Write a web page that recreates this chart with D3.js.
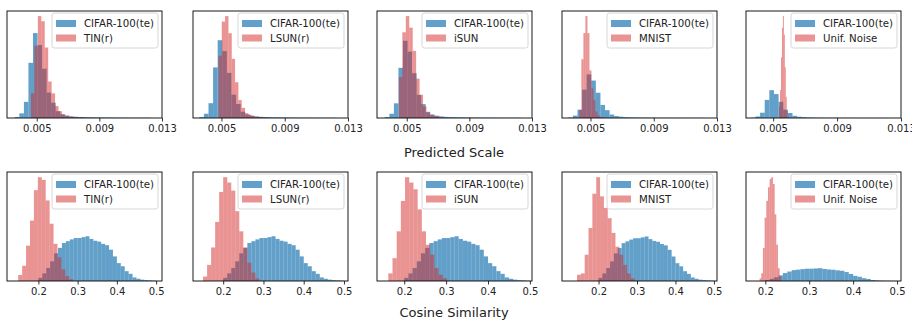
<!DOCTYPE html>
<html>
<head>
<meta charset="utf-8">
<script src="https://cdn.jsdelivr.net/npm/d3@7"></script>
<style>
  body { margin: 0; background: #fff; }
  svg { display: block; font-family: "DejaVu Sans", sans-serif; }
</style>
</head>
<body>
<svg id="chart" width="912" height="320"></svg>
<script>
// dataset names
const idName = 'CIFAR-100(te)';
const oodNames = ['TIN(r)', 'LSUN(r)', 'iSUN', 'MNIST', 'Unif. Noise'];

// tick labels
const scaleTicks = [0.005, 0.009, 0.013];
const cosTicks = [0.2, 0.3, 0.4, 0.5];

// x limits per panel
const scaleXMin = [0.0031, 0.0032, 0.0031, 0.0032, 0.0033];
const scaleXMax = [0.013, 0.013, 0.013, 0.013, 0.013];
const cosXMin = [0.12, 0.125, 0.135, 0.105, 0.156];
const cosXMax = [0.515, 0.51, 0.505, 0.508, 0.509];

// predicted scale, in-distribution histogram (same in every panel)
const scaleIdStart = 0.0036;
const scaleIdWidth = 0.00029;
const scaleId = [1.2, 5.5, 19, 65, 100, 86, 58, 30, 18, 8, 4.5, 3, 2, 1.5, 1.2,
  1, 0.9, 0.8, 0.7, 0.6, 0.5, 0.5, 0.4, 0.4, 0.4, 0.3, 0.3, 0.3, 0.3, 0.3];

// predicted scale, OOD histograms
const scaleOodStart = [0.00463, 0.00481, 0.0045, 0.0043, 0.00537];
const scaleOodWidth = [0.00022, 0.00021, 0.00022, 0.000127, 0.00006];
const scaleOod = [
  [29, 85, 120, 114, 83, 43, 29, 14, 8, 4, 2.3, 1.6, 1.2, 0.8, 0.8, 0.4],
  [80, 124, 131, 109, 76, 46, 23, 13, 6.3, 4.2, 2.5, 1.7, 1.3, 0.8, 0.4],
  [53, 111, 132, 117, 87, 51, 30, 15, 7, 4.3, 2.6, 1.7, 0.9, 0.4],
  [19, 135, 195, 234, 195, 109, 68, 41, 15, 6, 3, 1.5],
  [41, 100, 218, 324, 366, 300, 182, 76, 24, 6]
];

// cosine similarity, in-distribution histogram
const cosIdStart = 0.2;
const cosIdWidth = 0.01;
const cosId = [7, 17, 29, 44, 62, 74, 85, 89, 93, 96, 96, 98, 100, 94, 90, 88, 83,
  80, 70, 55, 40, 33, 22, 16, 8, 5, 3, 2, 1.5, 0.8];

// cosine similarity, OOD histograms
const cosOodStart = [0.1486, 0.15, 0.162, 0.144, 0.187];
const cosOodWidth = [0.01, 0.01, 0.01, 0.01, 0.0038];
const cosOod = [
  [13.5, 34, 79, 135, 203, 232, 226, 180, 128, 83, 53, 26, 11, 4],
  [10, 36, 75, 132, 199, 232, 220, 202, 156, 111, 75, 41, 19, 6],
  [17, 51, 111, 179, 232, 220, 205, 160, 111, 81, 59, 29, 14, 6],
  [14, 17, 59, 119, 196, 233, 190, 164, 141, 108, 77, 59, 36, 17, 6],
  [21, 60, 258, 495, 626, 732, 797, 811, 758, 521, 284, 100, 34]
];

const blue = '#1f77b4';
const red = '#d62728';
const panelLeft = [7, 193, 377, 562, 746];
const panelW = 155;

const svg = d3.select('#chart');

function toBins(start, width, values) {
  return values.map((v, i) => ({ x0: start + i * width, x1: start + (i + 1) * width, v }));
}

function drawPanel(i, top, height, xDomain, ticks, tickFmt, idBins, oodBins) {
  const left = panelLeft[i];
  const x = d3.scaleLinear().domain(xDomain).range([left, left + panelW]);
  const yMax = d3.max(idBins.concat(oodBins), d => d.v) * 1.05;
  const y = d3.scaleLinear().domain([0, yMax]).range([top + height, top]);

  const g = svg.append('g');

  g.append('g').selectAll('rect').data(idBins).enter().append('rect')
    .attr('x', d => x(d.x0))
    .attr('width', d => x(d.x1) - x(d.x0))
    .attr('y', d => y(d.v))
    .attr('height', d => y(0) - y(d.v))
    .attr('fill', blue).attr('fill-opacity', 0.7);

  g.append('g').selectAll('rect').data(oodBins).enter().append('rect')
    .attr('x', d => x(d.x0))
    .attr('width', d => x(d.x1) - x(d.x0))
    .attr('y', d => y(d.v))
    .attr('height', d => y(0) - y(d.v))
    .attr('fill', red).attr('fill-opacity', 0.5);

  // frame
  g.append('rect')
    .attr('x', left).attr('y', top)
    .attr('width', panelW).attr('height', height)
    .attr('fill', 'none').attr('stroke', '#000').attr('stroke-width', 0.9);

  const axis = d3.axisBottom(x).tickValues(ticks).tickFormat(tickFmt)
    .tickSize(3.5).tickPadding(3);
  const ax = g.append('g')
    .attr('transform', `translate(0,${top + height})`)
    .call(axis);
  ax.select('.domain').remove();
  ax.selectAll('line').attr('stroke', '#000').attr('stroke-width', 0.8);
  ax.selectAll('text').attr('font-size', '10px').attr('fill', '#222')
    .attr('font-family', '"DejaVu Sans", sans-serif');

  // legend
  const lw = 106, lh = 35;
  const lx = left + panelW - 4 - lw, ly = top + 2;
  const lg = g.append('g');
  lg.append('rect')
    .attr('x', lx).attr('y', ly).attr('width', lw).attr('height', lh)
    .attr('rx', 2.5).attr('fill', '#fff').attr('fill-opacity', 0.8)
    .attr('stroke', '#ccc').attr('stroke-width', 0.8);
  const entries = [
    { name: idName, color: blue, op: 0.7 },
    { name: oodNames[i], color: red, op: 0.5 }
  ];
  entries.forEach((e, k) => {
    const cy = ly + 10.5 + k * 14.5;
    lg.append('rect')
      .attr('x', lx + 4).attr('y', cy - 3.5).attr('width', 20).attr('height', 7)
      .attr('fill', e.color).attr('fill-opacity', e.op);
    lg.append('text')
      .attr('x', lx + 32).attr('y', cy)
      .attr('dominant-baseline', 'central')
      .attr('font-size', '10.2px').attr('fill', '#222')
      .text(e.name);
  });
}

const fmtScale = d3.format('.3f');
const fmtCos = d3.format('.1f');

for (let i = 0; i < 5; i++) {
  drawPanel(i, 11, 107, [scaleXMin[i], scaleXMax[i]], scaleTicks, fmtScale,
    toBins(scaleIdStart, scaleIdWidth, scaleId),
    toBins(scaleOodStart[i], scaleOodWidth[i], scaleOod[i]));
  drawPanel(i, 172, 109, [cosXMin[i], cosXMax[i]], cosTicks, fmtCos,
    toBins(cosIdStart, cosIdWidth, cosId),
    toBins(cosOodStart[i], cosOodWidth[i], cosOod[i]));
}

svg.append('text')
  .attr('x', 454).attr('y', 152)
  .attr('text-anchor', 'middle').attr('dominant-baseline', 'central')
  .attr('font-size', '13px').attr('fill', '#222')
  .text('Predicted Scale');

svg.append('text')
  .attr('x', 454).attr('y', 312)
  .attr('text-anchor', 'middle').attr('dominant-baseline', 'central')
  .attr('font-size', '13px').attr('fill', '#222')
  .text('Cosine Similarity');
</script>
</body>
</html>
